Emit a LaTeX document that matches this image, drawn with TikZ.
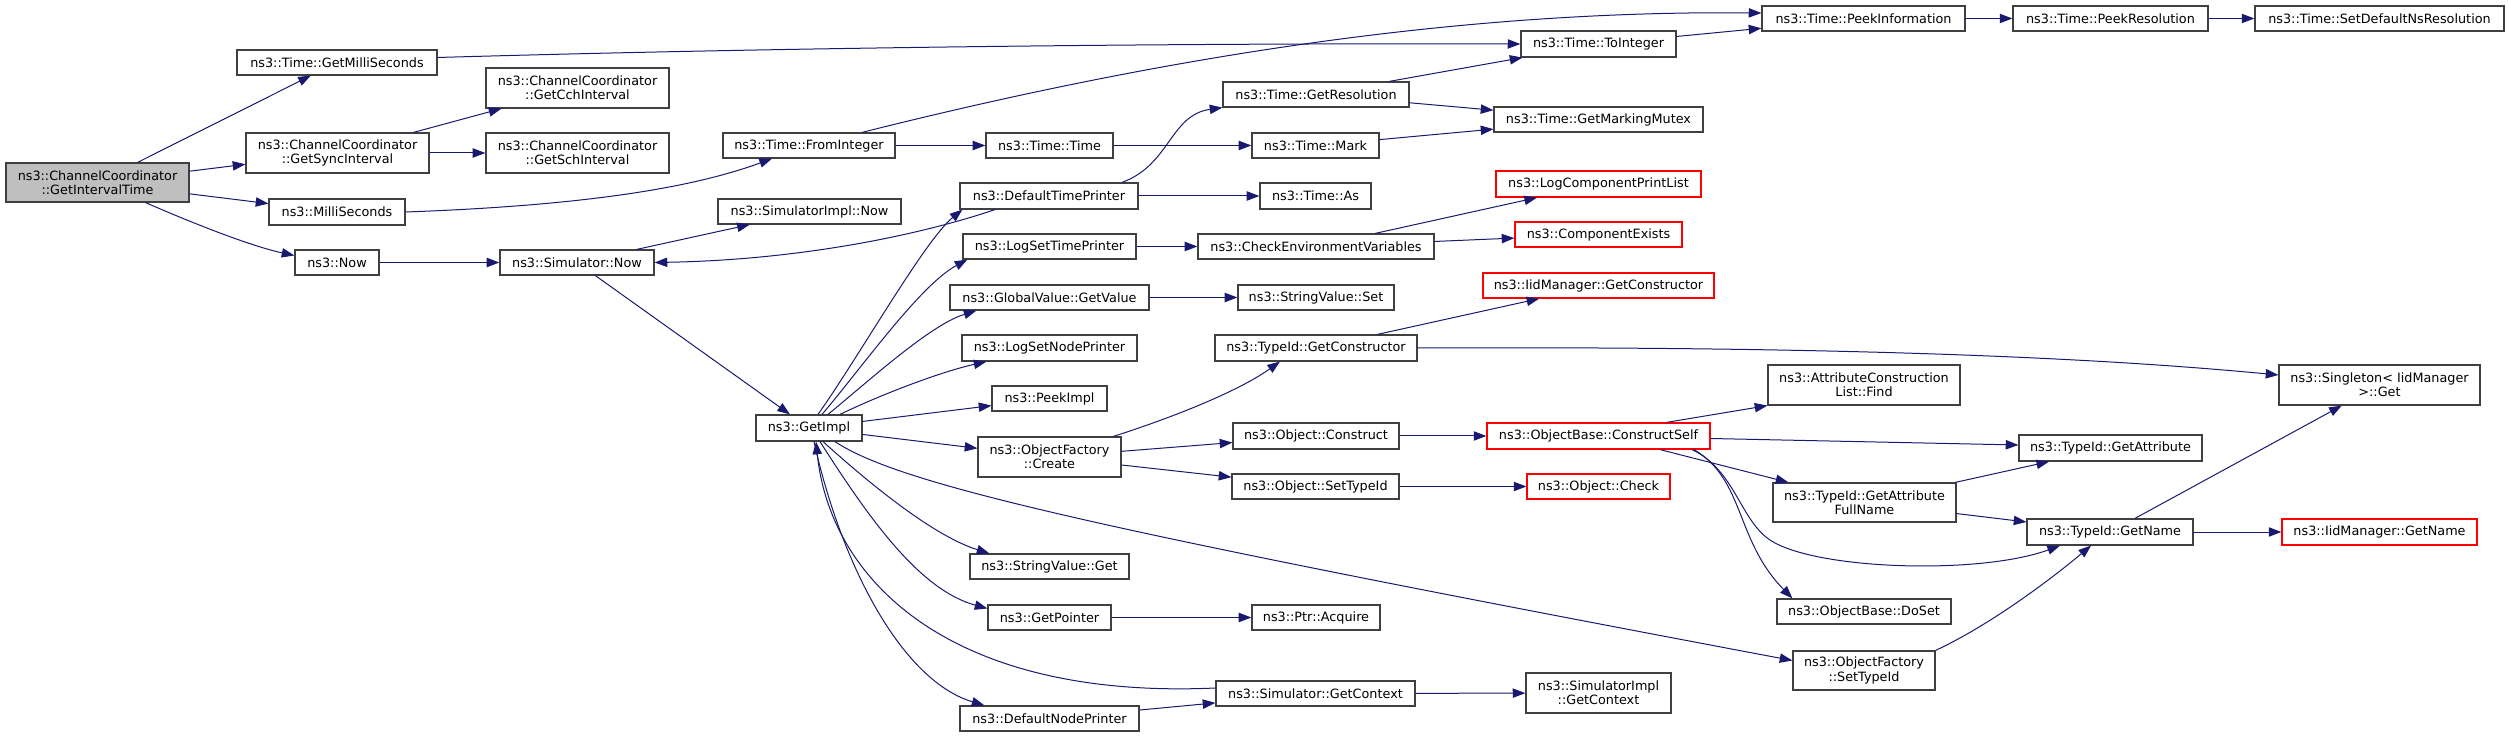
\documentclass[tikz,border=0pt]{standalone}
\usepackage{fontspec}
\setmainfont{DejaVu Sans}
\usetikzlibrary{arrows.meta}
\definecolor{edgeblue}{HTML}{191970}
\definecolor{boxgray}{HTML}{404040}
\definecolor{fillgray}{HTML}{BFBFBF}
\definecolor{boxred}{HTML}{FF0000}
\tikzset{
  box/.style={draw=boxgray, fill=white, line width=0.9pt, inner sep=0pt, align=center,
    font=\fontsize{9.6}{10.8}\selectfont, text=black},
  redbox/.style={draw=boxred},
  rootbox/.style={fill=fillgray},
  arr/.style={draw=edgeblue, line width=0.75pt, -{Triangle[length=9.5pt,width=7pt]}}
}
\newcommand\bx[7][]{\node[box,#1,minimum width={(#5-#3)*0.75pt},minimum height={(#6-#4)*0.75pt}] (#2) at ({(#3+#5)/2},{(#4+#6)/2}) {#7};}
\begin{document}
\begin{tikzpicture}[x=0.75pt,y=-0.75pt]
\useasboundingbox (0,0) rectangle (2509,737);
% nodes
\bx[rootbox]{GIT}{6}{163}{189}{202}{ns3::ChannelCoordinator\\::GetIntervalTime}
\bx{GMS}{237}{50}{437}{75}{ns3::Time::GetMilliSeconds}
\bx{GSI}{246}{133}{429}{173}{ns3::ChannelCoordinator\\::GetSyncInterval}
\bx{MS}{269}{199}{405}{225}{ns3::MilliSeconds}
\bx{NOW}{295}{250}{379}{275}{ns3::Now}
\bx{GCI}{486}{68}{669}{108}{ns3::ChannelCoordinator\\::GetCchInterval}
\bx{GSchI}{486}{133}{669}{173}{ns3::ChannelCoordinator\\::GetSchInterval}
\bx{FI}{723}{133}{895}{158}{ns3::Time::FromInteger}
\bx{SIN}{718}{199}{901}{224}{ns3::SimulatorImpl::Now}
\bx{SN}{500}{250}{654}{275}{ns3::Simulator::Now}
\bx{GI}{756}{415}{862}{441}{ns3::GetImpl}
\bx{TT}{986}{133}{1113}{158}{ns3::Time::Time}
\bx{DTP}{960}{183}{1138}{209}{ns3::DefaultTimePrinter}
\bx{GR}{1223}{82}{1409}{107}{ns3::Time::GetResolution}
\bx{MK}{1252}{133}{1379}{158}{ns3::Time::Mark}
\bx{AS}{1260}{183}{1371}{209}{ns3::Time::As}
\bx{LSTP}{963}{234}{1136}{259}{ns3::LogSetTimePrinter}
\bx{CEV}{1198}{234}{1434}{259}{ns3::CheckEnvironmentVariables}
\bx{TI}{1521}{31}{1676}{57}{ns3::Time::ToInteger}
\bx{GMM}{1494}{107}{1703}{132}{ns3::Time::GetMarkingMutex}
\bx[redbox]{LCPL}{1496}{171}{1701}{197}{ns3::LogComponentPrintList}
\bx[redbox]{CE}{1515}{222}{1682}{247}{ns3::ComponentExists}
\bx{PI}{1762}{6}{1965}{31}{ns3::Time::PeekInformation}
\bx{PR}{2013}{6}{2208}{31}{ns3::Time::PeekResolution}
\bx{SDNR}{2255}{6}{2504}{31}{ns3::Time::SetDefaultNsResolution}
\bx{GV}{950}{285}{1149}{310}{ns3::GlobalValue::GetValue}
\bx{SVS}{1238}{285}{1394}{310}{ns3::StringValue::Set}
\bx{LSNP}{962}{335}{1137}{361}{ns3::LogSetNodePrinter}
\bx{TGC}{1215}{335}{1417}{361}{ns3::TypeId::GetConstructor}
\bx{PKI}{992}{386}{1107}{411}{ns3::PeekImpl}
\bx{OFC}{978}{437}{1121}{477}{ns3::ObjectFactory\\::Create}
\bx[redbox]{IGC}{1483}{273}{1714}{298}{ns3::IidManager::GetConstructor}
\bx{ACLF}{1768}{365}{1960}{405}{ns3::AttributeConstruction\\List::Find}
\bx[redbox]{CS}{1487}{423}{1710}{449}{ns3::ObjectBase::ConstructSelf}
\bx{OC}{1233}{423}{1399}{449}{ns3::Object::Construct}
\bx{OST}{1232}{474}{1399}{499}{ns3::Object::SetTypeId}
\bx[redbox]{OCK}{1527}{474}{1670}{499}{ns3::Object::Check}
\bx{PA}{1252}{605}{1380}{630}{ns3::Ptr::Acquire}
\bx{SGC}{1216}{681}{1415}{706}{ns3::Simulator::GetContext}
\bx{SIGC}{1526}{673}{1671}{713}{ns3::SimulatorImpl\\::GetContext}
\bx{SVG}{970}{554}{1129}{579}{ns3::StringValue::Get}
\bx{GP}{988}{605}{1111}{630}{ns3::GetPointer}
\bx{DNP}{960}{706}{1139}{731}{ns3::DefaultNodePrinter}
\bx{SG}{2279}{365}{2480}{405}{ns3::Singleton< IidManager\\ >::Get}
\bx{TGA}{2019}{435}{2202}{461}{ns3::TypeId::GetAttribute}
\bx{TGAFN}{1773}{483}{1956}{522}{ns3::TypeId::GetAttribute\\FullName}
\bx{TGN}{2027}{519}{2193}{545}{ns3::TypeId::GetName}
\bx[redbox]{IGN}{2282}{519}{2477}{545}{ns3::IidManager::GetName}
\bx{OBD}{1777}{599}{1951}{624}{ns3::ObjectBase::DoSet}
\bx{OFST}{1793}{651}{1935}{690}{ns3::ObjectFactory\\::SetTypeId}
% edges
\draw[arr] (GIT) -- (GMS);
\draw[arr] (GIT) -- (GSI);
\draw[arr] (GIT) -- (MS);
\draw[arr] ([shift={(48,0)}]GIT.south) .. controls (190,222) and (250,246) .. ([shift={(0,-7)}]NOW.west);
\draw[arr] ([shift={(0,-5)}]GMS.east) .. controls (800,47) and (1200,43) .. (TI.west);
\draw[arr] (GSI) -- (GCI);
\draw[arr] (GSI) -- (GSchI);
\draw[arr] (MS.east) .. controls (600,205) and (700,185) .. ([shift={(-37,0)}]FI.south);
\draw[arr] (NOW) -- (SN);
\draw[arr] (SN) -- (SIN);
\draw[arr] (SN) -- (GI);
\draw[arr] ([shift={(-54,0)}]DTP.south) .. controls (920,235) and (800,260) .. (SN.east);
\draw[arr] (FI) -- (TT);
\draw[arr] ([shift={(53,0)}]FI.north) .. controls (1150,60) and (1450,10) .. ([shift={(0,-5.5)}]PI.west);
\draw[arr] (TT) -- (MK);
\draw[arr] (MK) -- (GMM);
\draw[arr] (GR) -- (GMM);
\draw[arr] (GR) -- (TI);
\draw[arr] ([shift={(73,0)}]DTP.north) .. controls (1170,165) and (1170,115) .. (GR.south west);
\draw[arr] (DTP) -- (AS);
\draw[arr] (TI) -- (PI);
\draw[arr] (PI) -- (PR);
\draw[arr] (PR) -- (SDNR);
\draw[arr] ([shift={(9,0)}]GI.north) .. controls (860,355) and (925,240) .. ([shift={(3,0)}]DTP.south west);
\draw[arr] ([shift={(13,0)}]GI.north) .. controls (860,370) and (920,285) .. ([shift={(5,0)}]LSTP.south west);
\draw[arr] ([shift={(19,0)}]GI.north) .. controls (870,380) and (930,325) .. ([shift={(27,0)}]GV.south west);
\draw[arr] ([shift={(31,0)}]GI.north) .. controls (880,395) and (940,372) .. ([shift={(25,0)}]LSNP.south west);
\draw[arr] (GI) -- (PKI);
\draw[arr] (GI) -- (OFC);
\draw[arr] ([shift={(14,0)}]GI.south) .. controls (860,475) and (930,535) .. ([shift={(20,0)}]SVG.north west);
\draw[arr] ([shift={(11,0)}]GI.south) .. controls (870,520) and (920,590) .. ([shift={(0,-9)}]GP.west);
\draw[arr] ([shift={(0,-5.5)}]SGC.west) .. controls (950,700) and (830,580) .. ([shift={(7,0)}]GI.south);
\draw[arr] ([shift={(5,0)}]GI.south) .. controls (840,560) and (900,680) .. ([shift={(25,0)}]DNP.north west);
\draw[arr] (DNP) -- (SGC);
\draw[arr] ([shift={(26,0)}]GI.south) .. controls (900,485) and (1100,530) .. ([shift={(0,-10)}]OFST.west);
\draw[arr] (SGC) -- (SIGC);
\draw[arr] (GP) -- (PA);
\draw[arr] (LSTP) -- (CEV);
\draw[arr] (CEV) -- (LCPL);
\draw[arr] (CEV) -- (CE);
\draw[arr] (GV) -- (SVS);
\draw[arr] ([shift={(64,0)}]OFC.north) .. controls (1180,415) and (1240,390) .. ([shift={(-36,0)}]TGC.south);
\draw[arr] (OFC) -- (OC);
\draw[arr] (OFC) -- (OST);
\draw[arr] (TGC) -- (IGC);
\draw[arr] (TGC.east) .. controls (1850,346) and (2100,358) .. ([shift={(0,-10)}]SG.west);
\draw[arr] (OC) -- (CS);
\draw[arr] (OST) -- (OCK);
\draw[arr] ([shift={(68,0)}]CS.north) -- (ACLF.south west);
\draw[arr] ([shift={(0,2.5)}]CS.east) -- ([shift={(0,-3)}]TGA.west);
\draw[arr] ([shift={(61.5,0)}]CS.south) -- ([shift={(16,0)}]TGAFN.north west);
\draw[arr] ([shift={(93.5,0)}]CS.south) .. controls (1735,470) and (1740,520) .. (1770,540) .. controls (1815,570) and (1980,575) .. ([shift={(-50,0)}]TGN.south);
\draw[arr] ([shift={(95.5,0)}]CS.south) .. controls (1745,480) and (1735,540) .. ([shift={(16,0)}]OBD.north west);
\draw[arr] (TGAFN) -- (TGA);
\draw[arr] (TGAFN) -- (TGN);
\draw[arr] (TGN) -- (SG);
\draw[arr] (TGN) -- (IGN);
\draw[arr] (OFST.north east) .. controls (1990,625) and (2050,580) .. ([shift={(-19,0)}]TGN.south);
\end{tikzpicture}
\end{document}
